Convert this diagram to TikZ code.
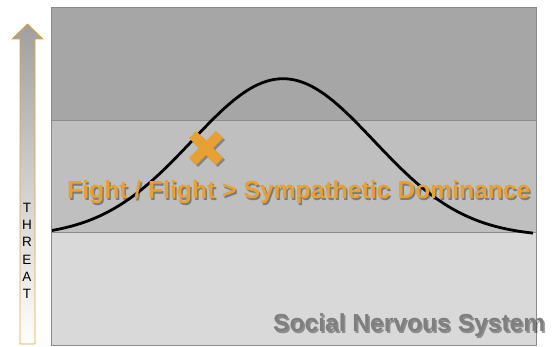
\documentclass[tikz,border=0pt]{standalone}
\usepackage{fontspec}
\setmainfont{Liberation Sans}
\definecolor{bandtop}{HTML}{A6A6A6}
\definecolor{bandmid}{HTML}{BFBFBF}
\definecolor{bandlow}{HTML}{D9D9D9}
\definecolor{edgegray}{HTML}{8C8C8C}
\definecolor{accent}{RGB}{230,161,50}
\definecolor{labelgray}{HTML}{7F7F7F}
\tikzset{
  band/.style={draw=edgegray, line width=0.8pt},
  bigtext/.style={font=\bfseries\fontsize{24.7}{26}\selectfont, inner sep=0pt, anchor=base west},
  shadowtext/.style={text=black, opacity=0.35},
  xarm/.style={fill=accent},
  xshadow/.style={fill=black, opacity=0.3},
}
\begin{document}
\begin{tikzpicture}[x=1pt,y=-1pt]
\useasboundingbox (0,0) rectangle (552,347);
% bands
\fill[bandtop] (51,7) rectangle (536,120);
\fill[bandmid] (51,120) rectangle (536,232);
\fill[bandlow] (51,232) rectangle (536,345);
\draw[band] (51,120) -- (536,120);
\draw[band] (51,232) -- (536,232);
\draw[band] (51,7) rectangle (536,345);
% threat arrow
\shade[top color=gray!75, bottom color=white, draw=accent, line width=0.7pt]
  (20,344) -- (20,39) -- (12,39) -- (27.5,24) -- (43,39) -- (35,39) -- (35,344) -- cycle;
\node[align=center, inner sep=0pt, font=\fontsize{13.5}{17.3}\selectfont] (threat) at (27,251) {T\\H\\R\\E\\A\\T};
% bell curve
\draw[line width=2.8pt, black] plot[domain=52:533, samples=120, smooth]
  (\x, {232 - 158*(exp(-0.5*((\x-283)/91)^2) - 0.03)});
% X mark shadow
\begin{scope}[shift={(208,150)}]
  \fill[xshadow, rotate=45] (-19,-5) rectangle (19,5);
  \fill[xshadow, rotate=-45] (-19,-5) rectangle (19,5);
\end{scope}
\begin{scope}[shift={(206,148)}]
  \fill[xarm, rotate=45] (-19,-5) rectangle (19,5);
  \fill[xarm, rotate=-45] (-19,-5) rectangle (19,5);
\end{scope}
\coordinate (xmark) at (206,148);
% main label
\node[bigtext, shadowtext] (fightshadow) at (68.5,200.5) {Fight / Flight > Sympathetic Dominance};
\node[bigtext, text=accent] (fight) at (67,199) {Fight / Flight > Sympathetic Dominance};
% social label
\node[bigtext, shadowtext, font=\bfseries\fontsize{24.6}{26}\selectfont] (socialshadow) at (274.5,333.5) {Social Nervous System};
\node[bigtext, text=labelgray, font=\bfseries\fontsize{24.6}{26}\selectfont] (social) at (273,332) {Social Nervous System};
\end{tikzpicture}
\end{document}
